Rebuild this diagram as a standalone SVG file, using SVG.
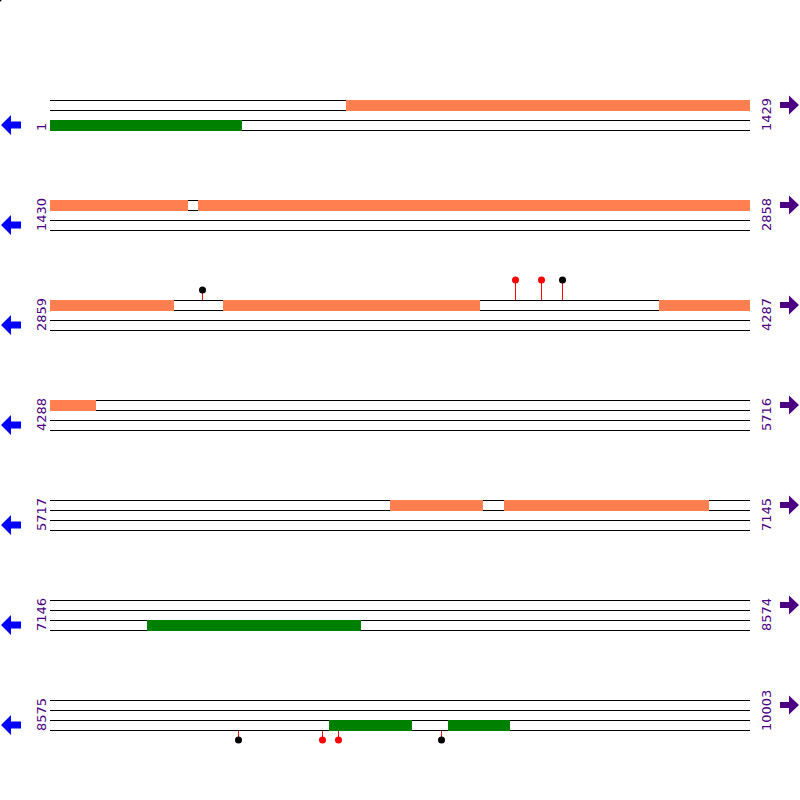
<svg xmlns="http://www.w3.org/2000/svg" width="800" height="800" viewBox="0 0 800 800">
<style>
.ln{stroke:#000;stroke-width:1;fill:none}
.or{fill:#FF7F50}
.gr{fill:#008000}
.wb{fill:#fff}
.lbl{font-family:"DejaVu Sans",sans-serif;font-size:13px;fill:#4B0082}
.la{fill:#0000FF}
.ra{fill:#4B0082}
.stem{stroke:#FF0000;stroke-width:1}
.dr{fill:#FF0000}
.dk{fill:#000}
</style>
<defs>
<path id="larr" d="M1,0 L11,-10 L11,-3.5 L21,-3.5 L21,3.5 L11,3.5 L11,10 Z"/>
<path id="rarr" d="M799,0 L789,-9.5 L789,-3 L780,-3 L780,3 L789,3 L789,9.5 Z"/>
<g id="lines">
<line class="ln" x1="50" y1="0.5" x2="750" y2="0.5"/>
<line class="ln" x1="50" y1="10.5" x2="750" y2="10.5"/>
<line class="ln" x1="50" y1="20.5" x2="750" y2="20.5"/>
<line class="ln" x1="50" y1="30.5" x2="750" y2="30.5"/>
</g>
</defs>
<circle cx="0" cy="0" r="1.5" fill="#000"/>
<g id="connectors">
<use href="#lines" y="100"/>
<use href="#lines" y="200"/>
<use href="#lines" y="300"/>
<use href="#lines" y="400"/>
<use href="#lines" y="500"/>
<use href="#lines" y="600"/>
<use href="#lines" y="700"/>
</g>
<g id="row1">
<rect class="or" x="346" y="100" width="404" height="11"/>
<rect class="gr" x="50" y="120" width="192" height="11"/>
<use href="#larr" class="la" y="125"/>
<use href="#rarr" class="ra" y="105"/>
<text class="lbl" transform="translate(46,131) rotate(-90)">1</text>
<text class="lbl" transform="translate(771,131) rotate(-90)">1429</text>
</g>
<g id="row2">
<rect class="or" x="50" y="200" width="138" height="11"/>
<rect class="or" x="198" y="200" width="552" height="11"/>
<use href="#larr" class="la" y="225"/>
<use href="#rarr" class="ra" y="205"/>
<text class="lbl" transform="translate(46,231) rotate(-90)">1430</text>
<text class="lbl" transform="translate(771,231) rotate(-90)">2858</text>
</g>
<g id="row3">
<rect class="or" x="50" y="300" width="124" height="11"/>
<rect class="or" x="223" y="300" width="257" height="11"/>
<rect class="or" x="659" y="300" width="91" height="11"/>
<line class="stem" x1="202.5" y1="290" x2="202.5" y2="300"/>
<circle class="dk" cx="202.5" cy="290" r="3.5"/>
<line class="stem" x1="515.5" y1="280" x2="515.5" y2="300"/>
<circle class="dr" cx="515.5" cy="280" r="3.5"/>
<line class="stem" x1="541.5" y1="280" x2="541.5" y2="300"/>
<circle class="dr" cx="541.5" cy="280" r="3.5"/>
<line class="stem" x1="562.5" y1="280" x2="562.5" y2="300"/>
<circle class="dk" cx="562.5" cy="280" r="3.5"/>
<use href="#larr" class="la" y="325"/>
<use href="#rarr" class="ra" y="305"/>
<text class="lbl" transform="translate(46,331) rotate(-90)">2859</text>
<text class="lbl" transform="translate(771,331) rotate(-90)">4287</text>
</g>
<g id="row4">
<rect class="or" x="50" y="400" width="46" height="11"/>
<use href="#larr" class="la" y="425"/>
<use href="#rarr" class="ra" y="405"/>
<text class="lbl" transform="translate(46,431) rotate(-90)">4288</text>
<text class="lbl" transform="translate(771,431) rotate(-90)">5716</text>
</g>
<g id="row5">
<rect class="or" x="390" y="500" width="93" height="11"/>
<rect class="or" x="504" y="500" width="205" height="11"/>
<use href="#larr" class="la" y="525"/>
<use href="#rarr" class="ra" y="505"/>
<text class="lbl" transform="translate(46,531) rotate(-90)">5717</text>
<text class="lbl" transform="translate(771,531) rotate(-90)">7145</text>
</g>
<g id="row6">
<rect class="gr" x="147" y="620" width="214" height="11"/>
<use href="#larr" class="la" y="625"/>
<use href="#rarr" class="ra" y="605"/>
<text class="lbl" transform="translate(46,631) rotate(-90)">7146</text>
<text class="lbl" transform="translate(771,631) rotate(-90)">8574</text>
</g>
<g id="row7">
<rect class="gr" x="329" y="720" width="83" height="11"/>
<rect class="gr" x="448" y="720" width="62" height="11"/>
<line class="stem" x1="238.5" y1="731" x2="238.5" y2="740"/>
<circle class="dk" cx="238.5" cy="740" r="3.5"/>
<line class="stem" x1="322.5" y1="731" x2="322.5" y2="740"/>
<circle class="dr" cx="322.5" cy="740" r="3.5"/>
<line class="stem" x1="338.5" y1="731" x2="338.5" y2="740"/>
<circle class="dr" cx="338.5" cy="740" r="3.5"/>
<line class="stem" x1="441.5" y1="731" x2="441.5" y2="740"/>
<circle class="dk" cx="441.5" cy="740" r="3.5"/>
<use href="#larr" class="la" y="725"/>
<use href="#rarr" class="ra" y="705"/>
<text class="lbl" transform="translate(46,731) rotate(-90)">8575</text>
<text class="lbl" transform="translate(771,731) rotate(-90)">10003</text>
</g>
</svg>
